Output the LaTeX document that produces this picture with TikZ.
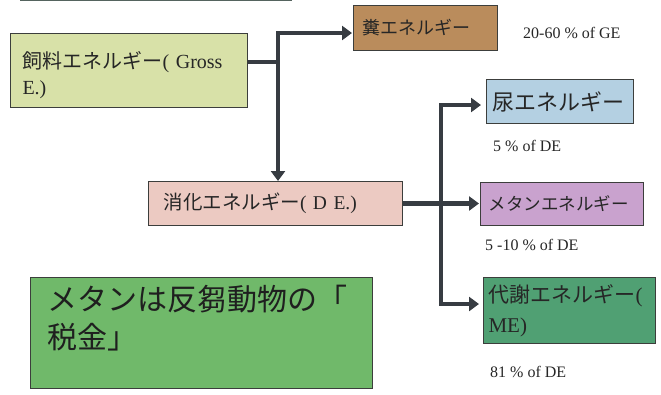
\documentclass[tikz,border=0pt]{standalone}
\usepackage{fontspec}
\setmainfont{Liberation Serif}
\newfontfamily\jp{Noto Sans CJK JP}
\usetikzlibrary{arrows.meta,calc}
\definecolor{feedc}{RGB}{216,225,168}
\definecolor{fecesc}{RGB}{186,140,92}
\definecolor{dec}{RGB}{236,202,194}
\definecolor{urinec}{RGB}{180,208,226}
\definecolor{methc}{RGB}{201,162,206}
\definecolor{mec}{RGB}{80,160,115}
\definecolor{taxc}{RGB}{112,185,106}
\definecolor{linec}{RGB}{55,60,66}
\definecolor{edgec}{RGB}{60,62,60}
\definecolor{topc}{RGB}{85,100,95}
\begin{document}
\begin{tikzpicture}[x=1pt,y=-1pt,
  box/.style={draw=edgec, line width=1pt, anchor=north west, inner ysep=0pt, align=left, text=black!85},
  arr/.style={draw=linec, line width=4.8pt, -{Triangle[length=10pt,width=14pt]}},
  plain/.style={draw=linec, line width=4.8pt},
  pct/.style={font=\fontsize{16}{19}\selectfont, anchor=west, inner sep=0pt, text=black!85}]
\useasboundingbox (0,0) rectangle (661,394);
\fill[topc] (20,-1) rectangle (292,1.0);
% boxes
\node[box, fill=feedc, minimum width=237pt, minimum height=74pt, inner xsep=12pt, text width=213pt,
  font=\fontsize{20}{26}\selectfont] (feed) at (10,33) {\rule{0pt}{26pt}{\jp 飼料エネルギー}( Gross\\E.)};
\node[box, fill=fecesc, minimum width=144pt, minimum height=45pt, inner xsep=9pt, text width=126pt,
  font=\fontsize{18}{22}\selectfont] (feces) at (353,5) {{\jp 糞エネルギー}};
\node[box, fill=dec, minimum width=254pt, minimum height=44pt, inner xsep=15pt, text width=224pt,
  font=\fontsize{19.5}{24}\selectfont] (de) at (148,181) {{\jp 消化エネルギー}( D E.)};
\node[box, fill=urinec, minimum width=147pt, minimum height=44pt, inner xsep=6pt, text width=135pt,
  font=\fontsize{22}{26}\selectfont] (urine) at (486,79) {{\jp 尿エネルギー}};
\node[box, fill=methc, minimum width=163pt, minimum height=43pt, inner xsep=8pt, text width=147pt,
  font=\fontsize{17.5}{22}\selectfont] (meth) at (480,182) {{\jp メタンエネルギー}};
\node[box, fill=mec, minimum width=172pt, minimum height=66pt, inner xsep=5pt, text width=162pt,
  font=\fontsize{21}{30}\selectfont] (me) at (483,277) {{\jp 代謝エネルギー}(\\ME)};
\node[box, fill=taxc, minimum width=342pt, minimum height=111pt] (tax) at (30,277) {};
\node[anchor=north west, inner sep=0pt, align=left, text=black!88,
  font=\jp\fontsize{30}{38}\selectfont] (taxtext) at (47,285) {メタンは反芻動物の「\\税金」};
% labels
\node[pct] (l1) at (523,33) {20-60 \% of GE};
\node[pct] (l2) at (493,146) {5 \% of DE};
\node[pct] (l3) at (485,245) {5 -10 \% of DE};
\node[pct] (l4) at (490,372) {81 \% of DE};
% connectors
\coordinate (jtop) at (278,33);
\coordinate (jmid) at (278,62);
\coordinate (ut) at (441,105);
\coordinate (ub) at (441,304);
\draw[plain] (jmid -| feed.east) -- (jmid);
\draw[arr, {Triangle[length=10pt,width=14pt]}-{Triangle[length=10pt,width=14pt]}]
  (jtop |- de.north) -- (jtop) -- ([xshift=-1pt]jtop -| feces.west);
\draw[arr] (de.east) -- ([xshift=-1pt]de.east -| meth.west);
\draw[arr, {Triangle[length=10pt,width=14pt]}-{Triangle[length=10pt,width=14pt]}]
  ([xshift=-5pt]ut -| urine.west) -- (ut) -- (ub) -- ([xshift=-4pt]ub -| me.west);
\end{tikzpicture}
\end{document}
